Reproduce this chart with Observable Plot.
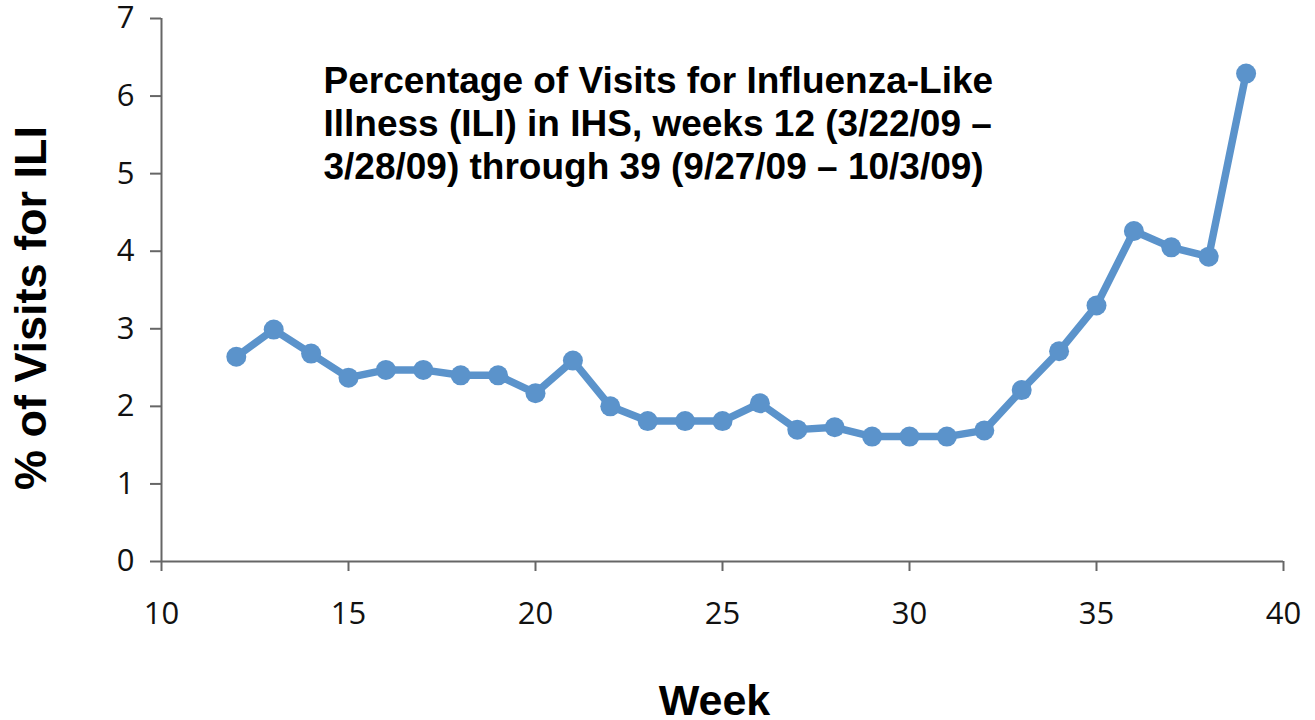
<!DOCTYPE html>
<html>
<head>
<meta charset="utf-8">
<script src="https://cdn.jsdelivr.net/npm/d3@7"></script>
<script src="https://cdn.jsdelivr.net/npm/@observablehq/plot@0.6"></script>
<style>
  html, body { margin: 0; padding: 0; background: #fff; }
  #chart svg { display: block; }
</style>
</head>
<body>
<div id="chart"></div>
<script>
const weeks = [12, 13, 14, 15, 16, 17, 18, 19, 20, 21, 22, 23, 24, 25, 26, 27, 28, 29, 30, 31, 32, 33, 34, 35, 36, 37, 38, 39];
const iliPercent = [2.64, 2.99, 2.68, 2.37, 2.47, 2.47, 2.40, 2.40, 2.17, 2.59, 2.00, 1.81, 1.81, 1.81, 2.04, 1.70, 1.73, 1.61, 1.61, 1.61, 1.69, 2.21, 2.71, 3.30, 4.26, 4.05, 3.93, 6.29];
const xTicks = [10, 15, 20, 25, 30, 35, 40];
const yTicks = [0, 1, 2, 3, 4, 5, 6, 7];
const titleText = "Percentage of Visits for Influenza-Like\nIllness (ILI) in IHS, weeks 12 (3/22/09 \u2013\n3/28/09) through 39 (9/27/09 \u2013 10/3/09)";
const xLabel = "Week";
const yLabel = "% of Visits for ILI";

const data = weeks.map((w, i) => ({week: w, ili: iliPercent[i]}));
const blue = "#5b93cb";
const axisGray = "#666666";
const boldFont = "'Liberation Sans', Arial, Helvetica, sans-serif";

const chart = Plot.plot({
  width: 1315,
  height: 720,
  marginLeft: 161,
  marginRight: 32,
  marginTop: 18,
  marginBottom: 159,
  style: {fontFamily: "'Open Sans', sans-serif", background: "#fff", color: "#111"},
  x: {domain: [10, 40]},
  y: {domain: [0, 7]},
  marks: [
    Plot.axisY(yTicks, {tickSize: 11, tickPadding: 16, fontSize: 31, tickFormat: d3.format("d"), stroke: axisGray, strokeWidth: 2, fill: "#111", label: null}),
    Plot.axisX(xTicks, {tickSize: 10, tickPadding: 30, fontSize: 31, tickFormat: d3.format("d"), stroke: axisGray, strokeWidth: 2, fill: "#111", label: null}),
    Plot.ruleX([10], {stroke: axisGray, strokeWidth: 2}),
    Plot.ruleY([0], {stroke: axisGray, strokeWidth: 2}),
    Plot.line(data, {x: "week", y: "ili", stroke: blue, strokeWidth: 7.5, strokeLinejoin: "round"}),
    Plot.dot(data, {x: "week", y: "ili", r: 10, fill: blue, stroke: "none"}),
    Plot.text([titleText], {frameAnchor: "top-left", textAnchor: "start", lineAnchor: "top", dx: 162, dy: 44, fontSize: 37, fontWeight: "bold", fontFamily: boldFont, lineHeight: 1.16, fill: "#000"}),
    Plot.text([xLabel], {frameAnchor: "bottom", textAnchor: "middle", lineAnchor: "middle", dx: -8, dy: 140, fontSize: 43, fontWeight: "bold", fontFamily: boldFont, fill: "#000"}),
    Plot.text([yLabel], {frameAnchor: "left", textAnchor: "middle", lineAnchor: "middle", rotate: -90, dx: -130, dy: 18, fontSize: 45, fontWeight: "bold", fontFamily: boldFont, fill: "#000"})
  ]
});
document.getElementById("chart").appendChild(chart);
</script>
</body>
</html>
